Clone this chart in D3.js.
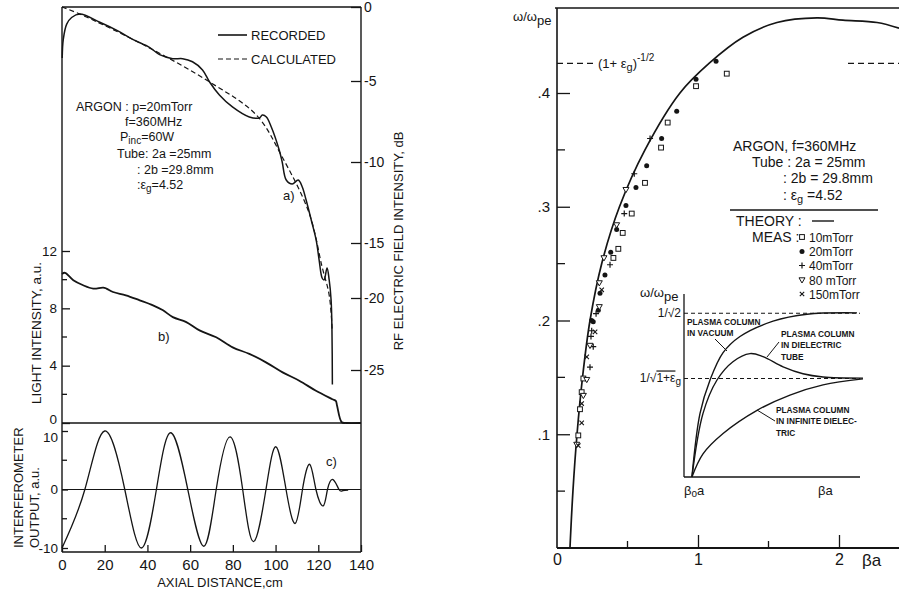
<!DOCTYPE html>
<html>
<head>
<meta charset="utf-8">
<script src="https://cdn.jsdelivr.net/npm/d3@7"></script>
<style>
  body { margin: 0; background: #fff; }
  svg { display: block; font-family: "Liberation Sans", Arial, sans-serif; }
</style>
</head>
<body>
<div id="chart"></div>
<script>
// ---------------- data ----------------

// a) RF electric field intensity along the column (dB)
var recordedCm = [0.1, 0.6, 2.2, 4.5, 8.4, 17.7, 25.7, 33.1, 41.1, 45.7, 51.8, 56.5, 61.1, 65.8, 69.1, 73.7, 79.8, 87.7, 92.4, 93.8, 95.7, 98.0, 101.7, 103.1, 105.0, 107.8, 110.6, 112.5, 114.3, 116.7, 119.0, 120.4, 121.8, 122.7, 124.1, 125.1, 126.0, 126.4, 126.6];
var recordedDb = [-3.45, -2.19, -1.16, -0.71, -0.48, -1.03, -1.58, -2.19, -2.74, -3.22, -3.49, -3.49, -3.70, -4.25, -5.06, -5.86, -6.60, -7.22, -7.28, -7.10, -7.22, -7.84, -9.26, -10.0, -11.11, -11.36, -11.11, -11.54, -12.35, -13.58, -14.81, -16.55, -18.18, -18.36, -17.27, -18.36, -20.14, -22.2, -26.0];
var calculatedCm = [0, 8.4, 39.7, 69.1, 91.0, 103.1, 115.7, 121.8, 125.1, 126.5];
var calculatedDb = [0, -0.48, -2.67, -5.06, -7.10, -9.69, -13.15, -17.18, -19.73, -22.2];

// b) light intensity (a.u.)
var lightCm = [0, 1.4, 5.3, 9.9, 14.6, 19.3, 20.8, 23.9, 29.9, 36.4, 42.6, 47.3, 51.9, 58.2, 64.4, 72.2, 79.9, 87.7, 95.5, 103.3, 111.1, 118.9, 126.6, 128.2, 128.8, 131.0, 133.0, 140];
var lightVal = [10.4, 10.48, 9.96, 9.61, 9.38, 9.45, 9.38, 9.14, 8.91, 8.56, 8.21, 7.86, 7.39, 7.04, 6.46, 5.98, 5.28, 4.82, 4.23, 3.53, 2.95, 2.25, 1.66, 1.54, 1.2, 0.05, 0, 0];

// c) interferometer output (a.u.)
var interfCm = [0, 10.7, 20, 29.4, 37.2, 44.2, 50.9, 58.9, 66.4, 72.2, 78.7, 84.6, 89.7, 95.5, 100.2, 104.9, 109.2, 112.6, 116.0, 118.9, 122.3, 124.3, 126.9, 129.7, 131.5, 134.0];
var interfVal = [-10, 0, 10, 0, -10, 0, 9.7, 0, -9.7, 0, 9.0, 0, -8.9, 0, 7.3, 0, -5.8, 0, 4.3, 0, -2.8, 0, 1.7, 0, -0.2, -0.1];

// left panel ticks
var distTicks = [0, 20, 40, 60, 80, 100, 120, 140];
var dbTicks = [0, -5, -10, -15, -20, -25];
var lightTicks = [0, 4, 8, 12];
var lightMinor = [2, 6, 10];
var interfTicks = [-10, 0, 10];
var interfMinor = [-5, 5];

// right panel: dispersion, omega/omega_pe vs beta*a
var theoryBa = [0.092, 0.113, 0.142, 0.181, 0.234, 0.319, 0.443, 0.624, 0.872, 1.078, 1.319, 1.560, 1.844, 2.028, 2.270, 2.426];
var theoryW = [0, 0.050, 0.100, 0.150, 0.200, 0.251, 0.300, 0.350, 0.400, 0.426, 0.449, 0.462, 0.466, 0.464, 0.462, 0.457];

var meas10Ba = [1.204, 0.986, 0.785, 0.738, 0.624, 0.530, 0.466, 0.435, 0.400, 0.187, 0.175, 0.163, 0.151];
var meas10W = [0.417, 0.406, 0.374, 0.352, 0.321, 0.294, 0.277, 0.263, 0.255, 0.149, 0.137, 0.122, 0.099];
var meas20Ba = [1.128, 0.986, 0.849, 0.742, 0.636, 0.560, 0.489, 0.423, 0.381, 0.340, 0.305, 0.293, 0.246, 0.257];
var meas20W = [0.428, 0.412, 0.384, 0.360, 0.336, 0.317, 0.301, 0.280, 0.260, 0.240, 0.224, 0.209, 0.200, 0.199];
var meas40Ba = [0.660, 0.548, 0.477, 0.376, 0.277, 0.246, 0.241, 0.257, 0.234];
var meas40W = [0.360, 0.329, 0.294, 0.249, 0.206, 0.191, 0.186, 0.177, 0.159];
var meas80Ba = [0.489, 0.423, 0.333, 0.300, 0.300, 0.234, 0.211, 0.187, 0.140];
var meas80W = [0.315, 0.284, 0.255, 0.233, 0.212, 0.178, 0.148, 0.134, 0.091];
var meas150Ba = [0.317, 0.270, 0.211, 0.175, 0.175, 0.151];
var meas150W = [0.227, 0.190, 0.168, 0.127, 0.110, 0.090];

var measLabels = ["10mTorr", "20mTorr", "40mTorr", "80 mTorr", "150mTorr"];
var measMarkers = ["square", "dot", "plus", "tri", "x"];

var wTicks = [0.1, 0.2, 0.3, 0.4];
var wMinor = [0.05, 0.15, 0.25, 0.35];
var baTicks = [0, 1, 2];
var baMinor = [0.5, 1.5];
var asymptoteW = 0.426;   // (1+eg)^-1/2 with eg = 4.52

// inset: schematic curves (x in arbitrary beta*a units)
var vacuumX = [0.45, 0.91, 1.48, 2.22, 3.18, 5.06, 6.99, 9.83];
var vacuumW = [0, 0.275, 0.419, 0.537, 0.607, 0.673, 0.703, 0.709];
var tubeX = [0.45, 1.08, 1.875, 2.78, 3.75, 4.49, 5.63, 6.76, 7.9, 10.17];
var tubeW = [0, 0.275, 0.419, 0.498, 0.533, 0.520, 0.476, 0.446, 0.432, 0.427];
var infiniteX = [0.45, 1.08, 2.22, 4.15, 6.02, 7.9, 10.17];
var infiniteW = [0, 0.100, 0.188, 0.288, 0.354, 0.398, 0.424];
var insetLevels = [0.7071, 0.4257];

// ---------------- drawing ----------------
var ink = "#151515";
var svg = d3.select("#chart").append("svg").attr("width", 899).attr("height", 592);

function seg(x1, y1, x2, y2, w, dash) {
  var l = svg.append("line").attr("x1", x1).attr("y1", y1).attr("x2", x2).attr("y2", y2)
    .attr("stroke", ink).attr("stroke-width", w || 1.3);
  if (dash) l.attr("stroke-dasharray", dash);
  return l;
}
function label(x, y, str, size, anchor) {
  return svg.append("text").attr("x", x).attr("y", y).attr("font-size", size)
    .attr("text-anchor", anchor || "start").attr("fill", ink).text(str);
}
function styleAxis(g, size) {
  g.select(".domain").remove();
  g.selectAll("line").attr("stroke", ink).attr("stroke-width", 1.3);
  g.selectAll("text").attr("fill", ink).attr("font-size", size).attr("font-family", "Liberation Sans, Arial, sans-serif");
}

// ---- left panel scales
var xDist = d3.scaleLinear().domain([0, 140]).range([62, 361]);
var yDb = d3.scaleLinear().domain(dbTicks).range([7, 81, 162, 243, 298, 370]);
var yLight = d3.scaleLinear().domain([0, 12]).range([423, 251]);
var yInt = d3.scaleLinear().domain([-10, 10]).range([548, 431]);

// frame
seg(62, 7, 361, 7, 1.6);
seg(62, 7, 62, 552, 1.4);
seg(361, 7, 361, 552, 1.4);
seg(62, yLight(0), 361, yLight(0), 1.6);
seg(62, 552, 361, 552, 1.6);
seg(62, yInt(0), 361, yInt(0), 1.2);

// right dB axis, ticks pointing inward
var dbAxis = svg.append("g").attr("transform", "translate(361,0)")
  .call(d3.axisRight(yDb).tickValues(dbTicks).tickSizeInner(-10).tickSizeOuter(0).tickPadding(3).tickFormat(d => String(d)));
styleAxis(dbAxis, 14);
dbAxis.selectAll("text").attr("x", 3);

// light intensity axis
var lightAxis = svg.append("g").attr("transform", "translate(62,0)")
  .call(d3.axisLeft(yLight).tickValues(lightTicks).tickSizeInner(-8).tickSizeOuter(0).tickPadding(5));
styleAxis(lightAxis, 13.5);
lightAxis.selectAll("text").attr("x", -5);
lightAxis.selectAll(".tick").filter(d => d === 0).select("text").attr("dy", "0.05em");
lightMinor.forEach(v => seg(62, yLight(v), 67, yLight(v)));

// interferometer axis
var intAxis = svg.append("g").attr("transform", "translate(62,0)")
  .call(d3.axisLeft(yInt).tickValues(interfTicks).tickSizeInner(-6).tickSizeOuter(0).tickFormat(d => String(d)));
styleAxis(intAxis, 13.5);
intAxis.selectAll("text").attr("x", -4);
intAxis.selectAll(".tick").filter(d => d === 10).select("text").attr("dy", "0.75em");
interfMinor.forEach(v => seg(62, yInt(v), 67, yInt(v)));

// distance axis
var distAxis = svg.append("g").attr("transform", "translate(0,552)")
  .call(d3.axisBottom(xDist).tickValues(distTicks).tickSizeInner(-7).tickSizeOuter(0).tickPadding(7));
styleAxis(distAxis, 15);
distAxis.selectAll("text").attr("y", 7);

// curves
var recordedLine = d3.line().x((d, i) => xDist(recordedCm[i])).y(d => yDb(d)).curve(d3.curveCatmullRom.alpha(0.5));
svg.append("path").datum(recordedDb).attr("d", recordedLine)
  .attr("fill", "none").attr("stroke", ink).attr("stroke-width", 1.5);

var calculatedLine = d3.line().x((d, i) => xDist(calculatedCm[i])).y(d => yDb(d)).curve(d3.curveCatmullRom.alpha(0.5));
svg.append("path").datum(calculatedDb).attr("d", calculatedLine)
  .attr("fill", "none").attr("stroke", ink).attr("stroke-width", 1.2).attr("stroke-dasharray", "5,3");

var lightLine = d3.line().x((d, i) => xDist(lightCm[i])).y(d => yLight(d)).curve(d3.curveCatmullRom.alpha(0.5));
svg.append("path").datum(lightVal).attr("d", lightLine)
  .attr("fill", "none").attr("stroke", ink).attr("stroke-width", 1.8);

var intLine = d3.line().x((d, i) => xDist(interfCm[i])).y(d => yInt(d)).curve(d3.curveNatural);
svg.append("path").datum(interfVal).attr("d", intLine)
  .attr("fill", "none").attr("stroke", ink).attr("stroke-width", 1.3);

// legend, left
seg(218, 35, 247, 35, 1.6);
label(251, 40, "RECORDED", 13);
seg(218, 59, 247, 59, 1.2, "5,3");
label(251, 64, "CALCULATED", 13);

// experiment notes, left
label(76, 111, "ARGON : p=20mTorr", 12.5);
label(125, 126, "f=360MHz", 12.5);
var pinc = label(120, 141, "P", 12.5);
pinc.append("tspan").attr("dy", 3).attr("font-size", 10).text("inc");
pinc.append("tspan").attr("dy", -3).text("=60W");
label(117, 158, "Tube: 2a =25mm", 12.5);
label(137, 174, ": 2b =29.8mm", 12.5);
var eg = label(137, 189, ":\u03b5", 12.5);
eg.append("tspan").attr("dy", 3).attr("font-size", 10).text("g");
eg.append("tspan").attr("dy", -3).text("=4.52");
label(283, 200, "a)", 13);
label(158, 341, "b)", 13);
label(326, 466, "c)", 13);

// axis titles, left
label(0, 0, "RF ELECTRIC FIELD INTENSITY, dB", 13, "middle").attr("transform", "translate(403,241) rotate(-90)");
label(0, 0, "LIGHT INTENSITY, a.u.", 13.5, "middle").attr("transform", "translate(41,333) rotate(-90)");
label(0, 0, "INTERFEROMETER", 13, "start").attr("transform", "translate(23,548) rotate(-90)");
label(0, 0, "OUTPUT, a.u.", 13, "start").attr("transform", "translate(39,548) rotate(-90)");
label(220, 587, "AXIAL DISTANCE,cm", 13, "middle");

// ---- right panel scales
var xBa = d3.scaleLinear().domain([0, 2]).range([557, 839]);
var yW = d3.scaleLinear().domain([0, 0.4]).range([548, 93]);

seg(555, 8, 899, 8, 1.6);
seg(557, 8, 557, 548, 1.6);
seg(557, 548, 899, 548, 1.8);

var wAxis = svg.append("g").attr("transform", "translate(557,0)")
  .call(d3.axisLeft(yW).tickValues(wTicks).tickSizeInner(-13).tickSizeOuter(0).tickFormat(d => "." + Math.round(d * 10)));
styleAxis(wAxis, 15);
wAxis.selectAll("text").attr("x", -7);
wMinor.forEach(v => seg(557, yW(v), 565, yW(v)));

var baAxis = svg.append("g").attr("transform", "translate(0,548)")
  .call(d3.axisBottom(xBa).tickValues(baTicks).tickSizeInner(-13).tickSizeOuter(0).tickFormat(d => String(d)));
styleAxis(baAxis, 16);
baAxis.selectAll("text").attr("y", 6);
baAxis.selectAll(".tick").filter(d => d === 0).select("line").remove();
baMinor.forEach(v => seg(xBa(v), 548, xBa(v), 541));
label(862, 566, "\u03b2a", 17);

var wl = label(513, 21, "\u03c9/\u03c9", 13);
wl.append("tspan").attr("dy", 4).text("pe");

// asymptote (1+eg)^-1/2
seg(557, yW(asymptoteW), 594, yW(asymptoteW), 1.3, "6,4");
seg(848, yW(asymptoteW), 899, yW(asymptoteW), 1.3, "6,4");
var asl = label(598, yW(asymptoteW) + 5, "(1+ \u03b5", 13);
asl.append("tspan").attr("dy", 3).attr("font-size", 11).text("g");
asl.append("tspan").attr("dy", -3).text(")");
asl.append("tspan").attr("dy", -7).attr("font-size", 10).text("-1/2");

// theory curve
var theoryLine = d3.line().x((d, i) => xBa(theoryBa[i])).y(d => yW(d)).curve(d3.curveCatmullRom.alpha(0.5));
svg.append("path").datum(theoryW).attr("d", theoryLine)
  .attr("fill", "none").attr("stroke", ink).attr("stroke-width", 1.7);

// markers
function marker(type, cx, cy) {
  var s = 2.4;
  if (type === "square") {
    svg.append("rect").attr("x", cx - s).attr("y", cy - s).attr("width", 2 * s).attr("height", 2 * s)
      .attr("fill", "#fff").attr("stroke", ink).attr("stroke-width", 1);
  } else if (type === "dot") {
    svg.append("circle").attr("cx", cx).attr("cy", cy).attr("r", 2.5).attr("fill", ink);
  } else if (type === "plus") {
    svg.append("path").attr("d", `M${cx - 3},${cy}H${cx + 3}M${cx},${cy - 3}V${cy + 3}`)
      .attr("stroke", ink).attr("stroke-width", 1.2);
  } else if (type === "tri") {
    svg.append("path").attr("d", `M${cx - 3},${cy - 2.2}L${cx + 3},${cy - 2.2}L${cx},${cy + 3}Z`)
      .attr("fill", "#fff").attr("stroke", ink).attr("stroke-width", 1);
  } else {
    svg.append("path").attr("d", `M${cx - 2.2},${cy - 2.2}L${cx + 2.2},${cy + 2.2}M${cx - 2.2},${cy + 2.2}L${cx + 2.2},${cy - 2.2}`)
      .attr("stroke", ink).attr("stroke-width", 1.1);
  }
}
var measBa = [meas10Ba, meas20Ba, meas40Ba, meas80Ba, meas150Ba];
var measW = [meas10W, meas20W, meas40W, meas80W, meas150W];
measBa.forEach(function (xs, k) {
  xs.forEach(function (b, i) { marker(measMarkers[k], xBa(b), yW(measW[k][i])); });
});

// legend block, right
label(733, 151, "ARGON, f=360MHz", 14);
label(752, 167, "Tube : 2a = 25mm", 14);
label(783, 183, ": 2b = 29.8mm", 14);
var eg2 = label(783, 200, ": \u03b5", 14);
eg2.append("tspan").attr("dy", 3).attr("font-size", 11).text("g");
eg2.append("tspan").attr("dy", -3).text(" =4.52");
seg(730, 210, 878, 210, 1.6);
label(736, 226, "THEORY :", 14);
seg(812, 221, 834, 221, 1.4);
label(752, 242, "MEAS :", 14);
measLabels.forEach(function (t, k) {
  var cy = [237, 251.5, 265.5, 280, 294][k];
  marker(measMarkers[k], 802, cy);
  label(809, cy + 4.5, t, 12);
});

// ---- inset
var xIn = d3.scaleLinear().domain([0, 10]).range([684, 860]);
var yIn = d3.scaleLinear().domain([0, 0.7071]).range([477, 313.3]);

seg(684, 294, 684, 477, 1.3);
seg(684, 477, 860, 477, 1.5);
insetLevels.forEach(v => seg(684, yIn(v), 860, yIn(v), 1.1, "4,3"));

[[vacuumX, vacuumW], [tubeX, tubeW], [infiniteX, infiniteW]].forEach(function (c) {
  var ln = d3.line().x((d, i) => xIn(c[0][i])).y(d => yIn(d)).curve(d3.curveCatmullRom.alpha(0.5));
  svg.append("path").datum(c[1]).attr("d", ln).attr("fill", "none").attr("stroke", ink).attr("stroke-width", 1.4);
});

var iwl = label(640, 297, "\u03c9/\u03c9", 13);
iwl.append("tspan").attr("dy", 4).text("pe");
label(681, yIn(insetLevels[0]) + 4, "1/\u221a2", 12, "end");
var sq = label(681, yIn(insetLevels[1]) + 4, "1/\u221a", 12, "end");
sq.append("tspan").attr("text-decoration", "overline").text("1+\u03b5");
sq.append("tspan").attr("dy", 3).attr("font-size", 10).text("g");
var b0 = label(684, 495, "\u03b2", 13);
b0.append("tspan").attr("dy", 2).attr("font-size", 10).text("o");
b0.append("tspan").attr("dy", -2).text("a");
label(818, 495, "\u03b2a", 13);

function smallText(x, y, lines) {
  lines.forEach(function (t, i) {
    label(x, y + i * 11.3, t, 8.3).attr("font-weight", "bold");
  });
}
smallText(687, 325, ["PLASMA COLUMN", "IN VACUUM"]);
seg(715, 339, 727, 351, 1);
smallText(781, 337, ["PLASMA COLUMN", "IN DIELECTRIC", "TUBE"]);
seg(767, 357, 779, 342, 1);
smallText(776, 413, ["PLASMA COLUMN", "IN INFINITE DIELEC-", "TRIC"]);
seg(757, 410, 775, 421, 1);
</script>
</body>
</html>
